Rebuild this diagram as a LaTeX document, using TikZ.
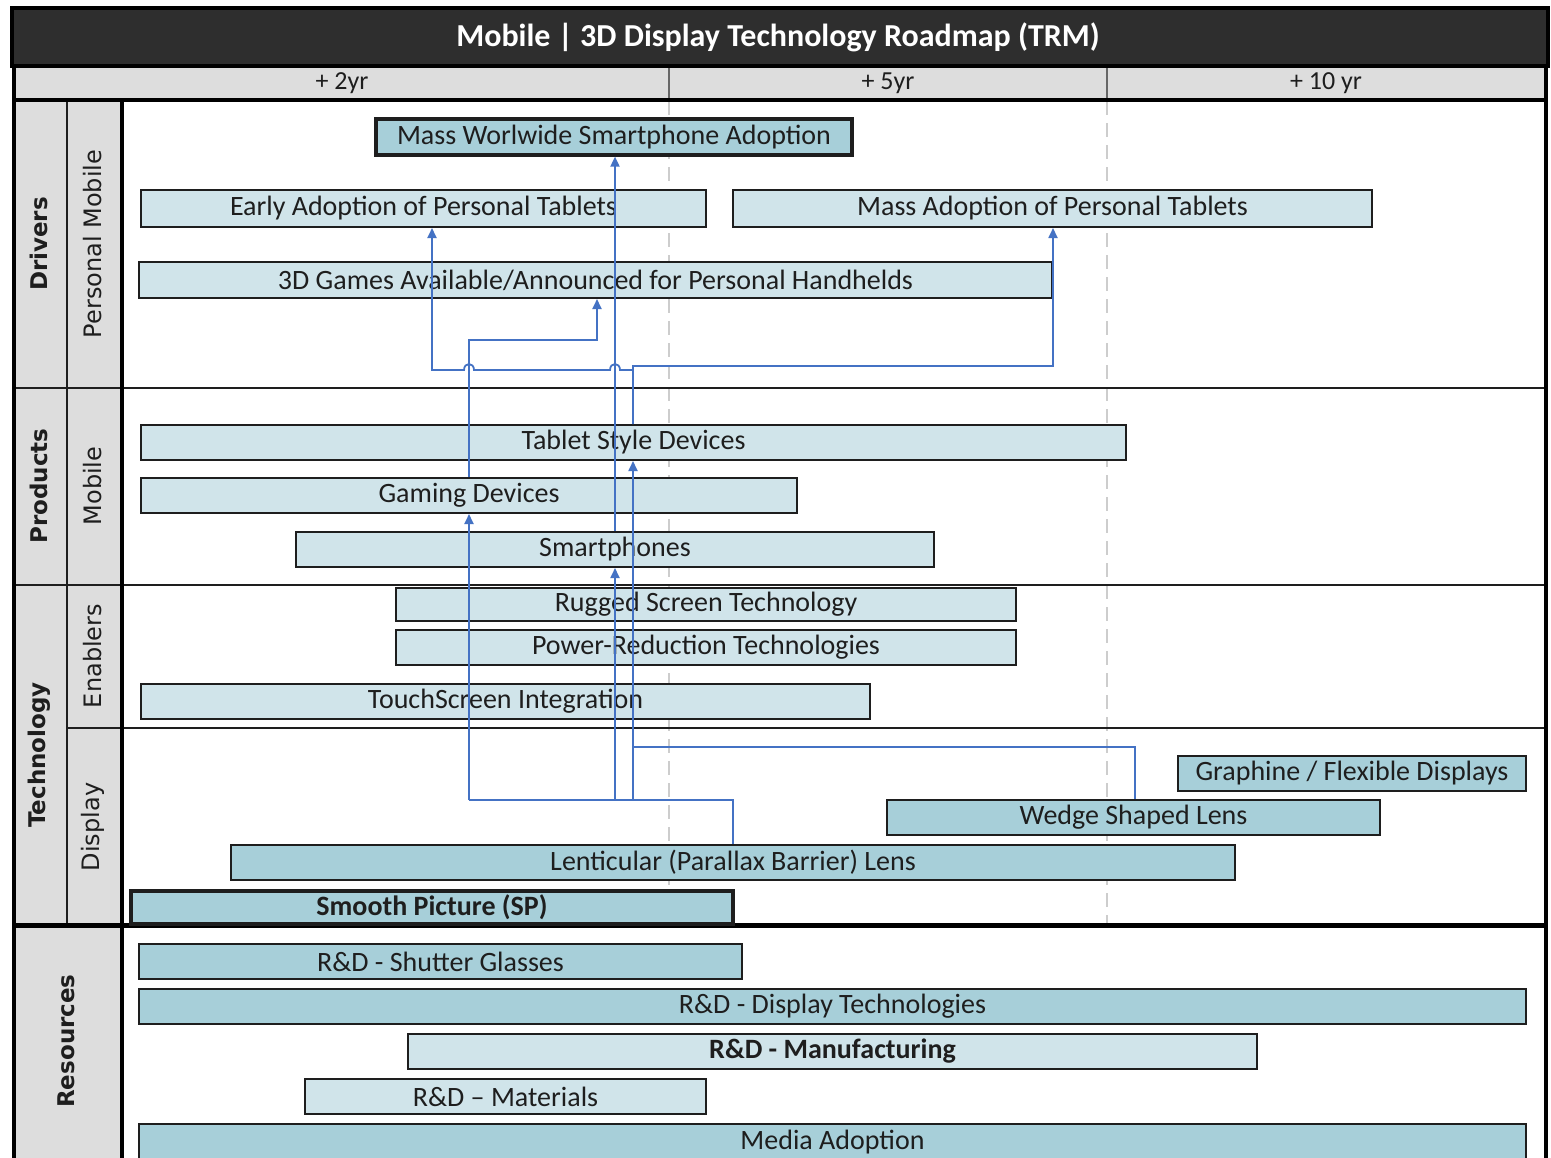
\documentclass[tikz,border=0pt]{standalone}
\usepackage{fontspec}
\setmainfont{Carlito}
\newfontfamily\lblfont{DejaVu Sans}
\usetikzlibrary{fit,arrows.meta}

\definecolor{barlight}{RGB}{208,228,234}
\definecolor{bardark}{RGB}{167,207,217}
\definecolor{titlebg}{RGB}{46,46,46}
\definecolor{headbg}{RGB}{221,221,221}
\definecolor{linkblue}{RGB}{68,114,196}
\definecolor{gridgray}{RGB}{205,205,205}
\definecolor{inkgray}{RGB}{30,30,30}

\tikzset{
  bar/.style={draw=inkgray, line width=1pt, inner sep=0pt},
  bartext/.style={text=inkgray, inner sep=0pt, font=\fontsize{14}{16}\selectfont},
  lightbar/.style={bar, fill=barlight},
  darkbar/.style={bar, fill=bardark, line width=1.2pt},
  link/.style={draw=linkblue, line width=0.9pt},
  tip/.style={-{Triangle[length=5pt,width=4.5pt]}},
  catlbl/.style={rotate=90, text=inkgray, font=\lblfont\bfseries\fontsize{11.5}{13}\selectfont},
  sublbl/.style={rotate=90, text=inkgray, font=\lblfont\fontsize{12}{14}\selectfont},
  yearlbl/.style={text=inkgray, font=\fontsize{13}{15}\selectfont},
  frameline/.style={draw=black, line width=2pt},
  rowline/.style={draw=inkgray, line width=1pt},
  yeargrid/.style={draw=gridgray, line width=1pt, dash pattern=on 7pt off 4pt},
}

% a roadmap bar spanning two corners, its text centred inside
\newcommand\roadbar[5]{%
  \node[#1, fit={(#3) (#4)}, label={[bartext]center:#5}] (#2) {};}

\begin{document}
\begin{tikzpicture}[x=0.5pt,y=-0.5pt]
\useasboundingbox (0,0) rectangle (1551,1157);
\fill[white] (0,0) rectangle (1551,1157);

% ---- frame: label columns, year header, title bar
\fill[headbg] (14,100) rectangle (122,1160);
\fill[headbg] (14,66) rectangle (1546,100);
\fill[titlebg] (12,8) rectangle (1548,66);

% year columns continue as dashed guides
\draw[yeargrid] (669,101) -- (669,924);
\draw[yeargrid] (1107,101) -- (1107,924);
\draw[draw=black!60, line width=0.8pt] (669,66) -- (669,100);
\draw[draw=black!60, line width=0.8pt] (1107,66) -- (1107,100);

% swim-lane rules
\draw[rowline] (67,100) -- (67,925);
\draw[rowline] (14,388) -- (1546,388);
\draw[rowline] (14,585) -- (1546,585);
\draw[rowline] (67,728) -- (1546,728);
\draw[frameline, line width=2.5pt] (14,925) -- (1546,925);
\draw[frameline] (122,100) -- (122,1160);
\draw[frameline] (14,100) -- (1546,100);
\draw[frameline, line width=1.5pt] (14,66) -- (1546,66);
\draw[frameline] (12,8) rectangle (1548,66);
\draw[frameline] (14,1160) -- (14,66);
\draw[frameline] (1546,1160) -- (1546,66);

% ---- title and time scale
\node[text=white, font=\bfseries\fontsize{16}{18}\selectfont] (title) at (778,37)
  {Mobile | 3D Display Technology Roadmap (TRM)};
\node[yearlbl] (yr2) at (342,83) {+ 2yr};
\node[yearlbl] (yr5) at (888,83) {+ 5yr};
\node[yearlbl] (yr10) at (1326,83) {+ 10 yr};

% ---- lane labels
\node[catlbl] (drivers) at (39,244) {Drivers};
\node[catlbl] (products) at (39,486) {Products};
\node[catlbl] (technology) at (39,755) {Technology};
\node[catlbl] (resources) at (66,1041) {Resources};
\node[sublbl] (persmob) at (93,244) {Personal Mobile};
\node[sublbl] (mobile) at (93,486) {Mobile};
\node[sublbl] (enablers) at (93,656) {Enablers};
\node[sublbl] (display) at (93,827) {Display};

% ---- Drivers
\roadbar{darkbar, line width=1.6pt}{massww}{376,119}{852,155}{Mass Worlwide Smartphone Adoption}
\roadbar{lightbar}{early}{141,190}{706,227}{Early Adoption of Personal Tablets}
\roadbar{lightbar}{massadopt}{733,190}{1372,227}{Mass Adoption of Personal Tablets}
\roadbar{lightbar}{games}{139,262}{1052,298}{3D Games Available/Announced for Personal Handhelds}

% ---- Products
\roadbar{lightbar}{tablet}{141,425}{1126,460}{Tablet Style Devices}
\roadbar{lightbar}{gaming}{141,478}{797,513}{Gaming Devices}
\roadbar{lightbar}{smart}{296,532}{934,567}{Smartphones}

% ---- Technology: enablers
\roadbar{lightbar}{rugged}{396,588}{1016,621}{Rugged Screen Technology}
\roadbar{lightbar}{power}{396,630}{1016,665}{Power-Reduction Technologies}
\roadbar{lightbar}{touch}{141,684}{870,719}{TouchScreen Integration}

% ---- Technology: display
\roadbar{darkbar}{graphine}{1178,756}{1526,791}{Graphine / Flexible Displays}
\roadbar{darkbar}{wedge}{887,800}{1380,835}{Wedge Shaped Lens}
\roadbar{darkbar}{lent}{231,845}{1235,880}{Lenticular (Parallax Barrier) Lens}
\roadbar{darkbar, line width=1.6pt}{smooth}{131,891}{733,924}{\bfseries Smooth Picture (SP)}

% ---- Resources
\roadbar{darkbar}{shutter}{139,944}{742,979}{R\&D - Shutter Glasses}
\roadbar{darkbar}{rddisp}{139,989}{1526,1024}{R\&D - Display Technologies}
\roadbar{lightbar}{manuf}{408,1034}{1257,1069}{\bfseries R\&D - Manufacturing}
\roadbar{lightbar}{mater}{305,1079}{706,1114}{R\&D -- Materials}
\roadbar{darkbar}{media}{139,1124}{1526,1160}{Media Adoption}

% ---- link routing points
\coordinate (busL) at (469,800);
\coordinate (busS) at (615,800);
\coordinate (busT) at (633,800);
\coordinate (busR) at (733,800);
\coordinate (wedgeJ) at (633,747);
\coordinate (wedgeX) at (1135,747);
\coordinate (gamesX) at (597,340);
\coordinate (massX) at (1053,366);
\coordinate (earlyX) at (432,370);

% display technologies feed the product lines
\draw[link] (lent.north -| busR) -- (busR) -- (busL);
\draw[link, tip] (busL) -- (gaming.south -| busL);
\draw[link, tip] (busS) -- (smart.south -| busS);
\draw[link, tip] (busT) -- (tablet.south -| busT);
\draw[link] (wedge.north -| wedgeX) -- (wedgeX) -- (wedgeJ);

% products drive the market
\draw[link, tip] (gaming.north -| busL) |- (gamesX) -- (games.south -| gamesX);
\draw[link, tip] (smart.north -| busS) -- (massww.south -| busS);
\draw[link, tip] (tablet.north -| busT) |- (massX) -- (massadopt.south -| massX);
\draw[link, tip] (tablet.north -| busT) -- (633,370) -- (620,370)
  .. controls (620,362) and (610,362) .. (610,370) -- (474,370)
  .. controls (474,362) and (464,362) .. (464,370) -- (earlyX)
  -- (early.south -| earlyX);
\end{tikzpicture}
\end{document}
